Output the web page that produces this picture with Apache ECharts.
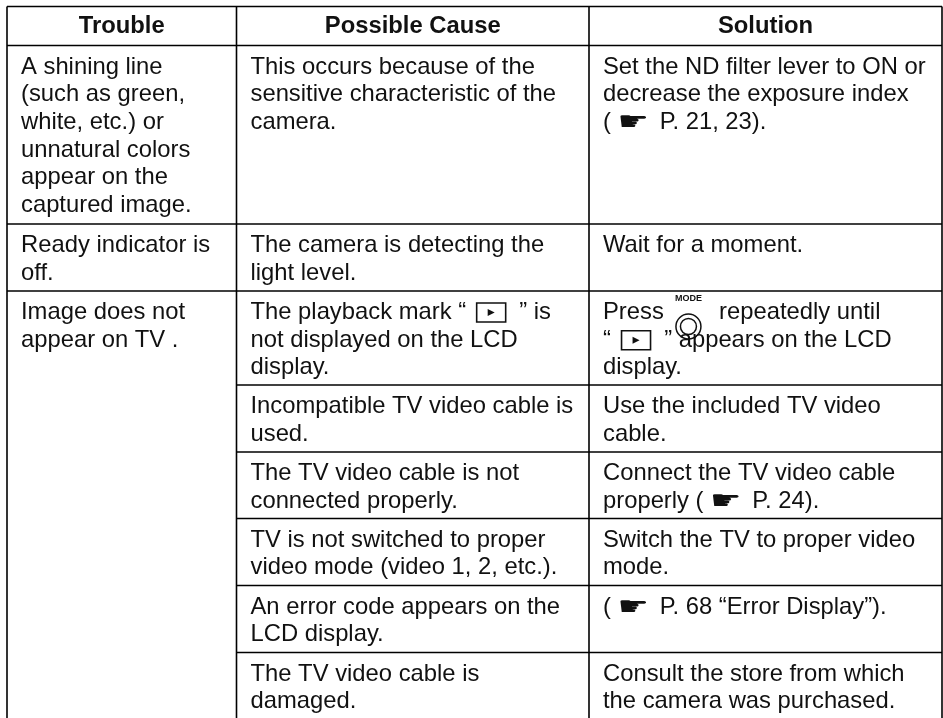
<!DOCTYPE html>
<html>
<head>
<meta charset="utf-8">
<title>Troubleshooting table</title>
<script src="https://cdn.jsdelivr.net/npm/echarts@6/dist/echarts.min.js"></script>
<style>
html, body { margin: 0; padding: 0; background: #fff; }
#main { width: 943px; height: 718px; }
</style>
</head>
<body>
<div id="main"></div>
<script>
var headers = ['Trouble', 'Possible Cause', 'Solution'];

var rowTrouble = [
    ['A shining line', '(such as green,', 'white, etc.) or', 'unnatural colors', 'appear on the', 'captured image.'],
    ['Ready indicator is', 'off.'],
    ['Image does not', 'appear on TV .']
];
// rows of the third group share one Trouble cell
var rowCause = [
    ['This occurs because of the', 'sensitive characteristic of the', 'camera.'],
    ['The camera is detecting the', 'light level.'],
    ['The playback mark \u201C {play} \u201D is', 'not displayed on the LCD', 'display.'],
    ['Incompatible TV video cable is', 'used.'],
    ['The TV video cable is not', 'connected properly.'],
    ['TV is not switched to proper', 'video mode (video 1, 2, etc.).'],
    ['An error code appears on the', 'LCD display.'],
    ['The TV video cable is', 'damaged.']
];
var rowSolution = [
    ['Set the ND filter lever to ON or', 'decrease the exposure index', '( {hand} P. 21, 23).'],
    ['Wait for a moment.'],
    ['Press {mode} repeatedly until', '\u201C {play} \u201D appears on the LCD', 'display.'],
    ['Use the included TV video', 'cable.'],
    ['Connect the TV video cable', 'properly ( {hand} P. 24).'],
    ['Switch the TV to proper video', 'mode.'],
    ['( {hand} P. 68 \u201CError Display\u201D).'],
    ['Consult the store from which', 'the camera was purchased.']
];
var troubleRowIndex = [0, 1, 2];

var colX = [7, 236.5, 589, 942];
var rowY = [6.5, 45.5, 224, 291, 385, 452, 518.5, 585.5, 652.5, 718];
var textPad = 14;
var lineH = 27.7;
var firstLine = 21.5;
var fontFamily = '"Liberation Sans", Arial, sans-serif';
var textFont = '23.8px ' + fontFamily;
var ink = '#111';

var measure = document.createElement('canvas').getContext('2d');
function textWidth(s, font) {
    measure.font = font;
    return measure.measureText(s).width;
}

function line(x1, y1, x2, y2) {
    return {
        type: 'line',
        shape: { x1: x1, y1: y1, x2: x2, y2: y2 },
        style: { stroke: '#000', lineWidth: 1.6 },
        silent: true
    };
}

function text(x, y, s, font, align) {
    return {
        type: 'text',
        x: x,
        y: y,
        style: { text: s, font: font, fill: ink, align: align || 'left', verticalAlign: 'middle' },
        silent: true
    };
}

function playIcon(x, y) {
    return [
        {
            type: 'rect',
            shape: { x: x + 4, y: y - 9.5, width: 29, height: 19 },
            style: { fill: 'none', stroke: ink, lineWidth: 1.6 },
            silent: true
        },
        {
            type: 'polygon',
            shape: { points: [[x + 15, y - 3.5], [x + 15, y + 3.5], [x + 22, y]] },
            style: { fill: ink },
            silent: true
        }
    ];
}

function modeIcon(x, y) {
    return [
        text(x + 18, y - 14, 'MODE', 'bold 9px ' + fontFamily, 'center'),
        {
            type: 'circle',
            shape: { cx: x + 18, cy: y + 14, r: 12.5 },
            style: { fill: 'none', stroke: ink, lineWidth: 1.5 },
            silent: true
        },
        {
            type: 'circle',
            shape: { cx: x + 18, cy: y + 14, r: 8 },
            style: { fill: 'none', stroke: ink, lineWidth: 1.5 },
            silent: true
        }
    ];
}

// one table line, with the small icons put between its text runs
function drawLine(out, x, y, s) {
    var parts = s.split(/(\{play\}|\{hand\}|\{mode\})/);
    parts.forEach(function (p) {
        if (p == '{play}') {
            out.push.apply(out, playIcon(x, y));
            x += 40;
        } else if (p == '{mode}') {
            out.push.apply(out, modeIcon(x, y));
            x += 42;
        } else if (p == '{hand}') {
            var hand = text(x, y + 1, '\u261B', '26px "DejaVu Sans"');
            hand.scaleX = 1.35;
            out.push(hand);
            x += 35.5;
        } else if (p) {
            out.push(text(x, y, p, textFont));
            x += textWidth(p, textFont);
        }
    });
}

function drawCell(out, col, row, lines) {
    lines.forEach(function (s, i) {
        drawLine(out, colX[col] + textPad, rowY[row] + firstLine + i * lineH, s);
    });
}

function buildGraphic() {
    var out = [];
    rowY.forEach(function (y, i) {
        // the third Trouble cell spans the rest of the table
        var x1 = (i > 3 ? colX[1] : colX[0]);
        if (i < rowY.length - 1) {
            out.push(line(x1, y, colX[3], y));
        }
    });
    colX.forEach(function (x) {
        out.push(line(x, rowY[0], x, rowY[rowY.length - 1]));
    });
    headers.forEach(function (h, i) {
        out.push(text((colX[i] + colX[i + 1]) / 2, (rowY[0] + rowY[1]) / 2 + 0.5, h, 'bold 23.8px ' + fontFamily, 'center'));
    });
    rowTrouble.forEach(function (lines, i) {
        drawCell(out, 0, troubleRowIndex[i] + 1, lines);
    });
    rowCause.forEach(function (lines, i) {
        drawCell(out, 1, i + 1, lines);
    });
    rowSolution.forEach(function (lines, i) {
        drawCell(out, 2, i + 1, lines);
    });
    return out;
}

var chart = echarts.init(document.getElementById('main'));
chart.setOption({
    backgroundColor: '#fff',
    animation: false,
    graphic: { elements: buildGraphic() }
});
</script>
</body>
</html>
